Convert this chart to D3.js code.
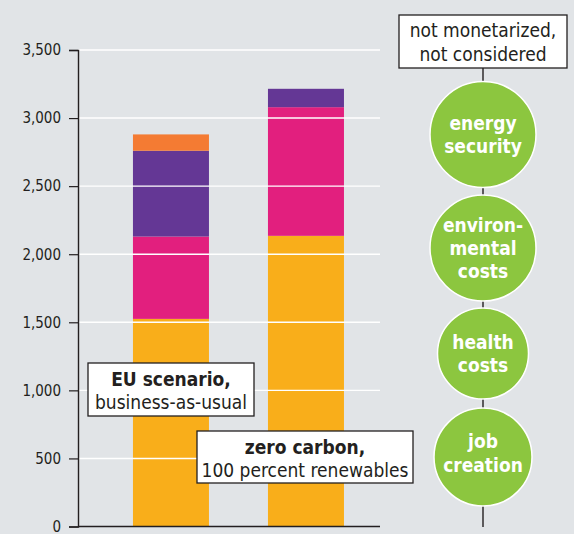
<!DOCTYPE html>
<html>
<head>
<meta charset="utf-8">
<script src="https://cdn.jsdelivr.net/npm/d3@7"></script>
<style>
  html, body { margin: 0; padding: 0; background: #e1e4e7; }
  text { font-family: "Liberation Sans Narrow", "DejaVu Sans Condensed", "Arial Narrow", sans-serif; }
</style>
</head>
<body>
<div id="chart"></div>
<script>
var width = 574
var height = 534

// data
var scenarios = ['EU scenario', 'zero carbon']
var layers = ['base', 'second', 'third', 'fourth']
var layer_colors = ['#f9ae1a', '#e21f7e', '#643795', '#f47b33']
var base_vals = [1525, 2135]
var second_vals = [605, 945]
var third_vals = [630, 135]
var fourth_vals = [120, 0]
var y_ticks = [0, 500, 1000, 1500, 2000, 2500, 3000, 3500]

// right hand column, not monetarized
var top_note = ['not monetarized,', 'not considered']
var bubble_labels = [['energy', 'security'], ['environ-', 'mental', 'costs'], ['health', 'costs'], ['job', 'creation']]

var table = scenarios.map(function(s, i) {
  return {scenario: s, base: base_vals[i], second: second_vals[i], third: third_vals[i], fourth: fourth_vals[i]}
})

var stacked = d3.stack().keys(layers)(table)

var svg = d3.select('#chart')
  .append('svg')
  .attr('width', width)
  .attr('height', height)

svg.append('rect')
  .attr('width', width)
  .attr('height', height)
  .attr('fill', '#e1e4e7')

var y = d3.scaleLinear()
  .domain([0, 3500])
  .range([526.5, 50])

var x = d3.scaleBand()
  .domain(scenarios)
  .range([78, 380])
  .paddingInner(0.437)
  .paddingOuter(0.337)
  .align(0.604)

var color = d3.scaleOrdinal()
  .domain(layers)
  .range(layer_colors)

// bars
svg.append('g')
  .selectAll('g')
  .data(stacked)
  .enter()
  .append('g')
  .attr('fill', function(d) { return color(d.key) })
  .selectAll('rect')
  .data(function(d) { return d })
  .enter()
  .append('rect')
  .attr('x', function(d) { return x(d.data.scenario) })
  .attr('y', function(d) { return y(d[1]) })
  .attr('width', x.bandwidth())
  .attr('height', function(d) { return y(d[0]) - y(d[1]) })

// white gridlines sit over the bars
svg.append('g')
  .selectAll('line')
  .data(y_ticks.filter(function(d) { return d > 0 }))
  .enter()
  .append('line')
  .attr('x1', 78)
  .attr('x2', 380)
  .attr('y1', function(d) { return y(d) })
  .attr('y2', function(d) { return y(d) })
  .attr('stroke', '#ffffff')
  .attr('stroke-width', 1.4)

// y axis
var yAxis = d3.axisLeft(y)
  .tickValues(y_ticks)
  .tickFormat(d3.format(','))
  .tickSize(9)
  .tickPadding(8)

var gy = svg.append('g')
  .attr('transform', 'translate(78,0)')
  .call(yAxis)

gy.select('.domain').attr('stroke', '#231f20').attr('stroke-width', 1.4)
gy.selectAll('.tick line').attr('stroke', '#231f20').attr('stroke-width', 1.2)
gy.selectAll('.tick text')
  .attr('fill', '#231f20')
  .style('font-size', '15px')

// baseline
svg.append('line')
  .attr('x1', 78)
  .attr('x2', 380)
  .attr('y1', y(0))
  .attr('y2', y(0))
  .attr('stroke', '#231f20')
  .attr('stroke-width', 1.4)

// scenario labels
function label_box(x0, y0, w, h, bold_line, plain_line) {
  var g = svg.append('g')
  g.append('rect')
    .attr('x', x0)
    .attr('y', y0)
    .attr('width', w)
    .attr('height', h)
    .attr('fill', '#ffffff')
    .attr('stroke', '#231f20')
    .attr('stroke-width', 1.3)
  g.append('text')
    .attr('x', x0 + w / 2)
    .attr('y', y0 + 23)
    .attr('text-anchor', 'middle')
    .attr('fill', '#231f20')
    .style('font-weight', 'bold')
    .style('font-size', '19px')
    .text(bold_line)
  g.append('text')
    .attr('x', x0 + w / 2)
    .attr('y', y0 + 46)
    .attr('text-anchor', 'middle')
    .attr('fill', '#231f20')
    .style('font-size', '19px')
    .text(plain_line)
}

label_box(88, 363, 166, 53, 'EU scenario,', 'business-as-usual')
label_box(197, 431, 216, 52, 'zero carbon,', '100 percent renewables')

// right column
var cx = 483

svg.append('line')
  .attr('x1', cx)
  .attr('x2', cx)
  .attr('y1', 68)
  .attr('y2', 527)
  .attr('stroke', '#231f20')
  .attr('stroke-width', 1.4)

svg.append('rect')
  .attr('x', 399)
  .attr('y', 15)
  .attr('width', 168)
  .attr('height', 53)
  .attr('fill', '#ffffff')
  .attr('stroke', '#231f20')
  .attr('stroke-width', 1.3)

svg.selectAll('.note')
  .data(top_note)
  .enter()
  .append('text')
  .attr('class', 'note')
  .attr('x', cx)
  .attr('y', function(d, i) { return 37 + i * 24 })
  .attr('text-anchor', 'middle')
  .attr('fill', '#231f20')
  .style('font-size', '19px')
  .text(function(d) { return d })

var bubble_cy = [134.5, 248, 353.5, 457]
var bubble_r = [53, 53, 45.5, 49]
var text_shift = [0, 0, 0, -4]

var bubbles = svg.selectAll('.bubble')
  .data(bubble_labels)
  .enter()
  .append('g')
  .attr('class', 'bubble')

bubbles.append('circle')
  .attr('cx', cx)
  .attr('cy', function(d, i) { return bubble_cy[i] })
  .attr('r', function(d, i) { return bubble_r[i] })
  .attr('fill', '#8cc63f')
  .attr('stroke', '#ffffff')
  .attr('stroke-width', 1.5)

bubbles.each(function(lines, i) {
  var first = bubble_cy[i] - (lines.length - 1) * 23.3 / 2 + 7 + text_shift[i]
  d3.select(this)
    .selectAll('text')
    .data(lines)
    .enter()
    .append('text')
    .attr('x', cx)
    .attr('y', function(d, j) { return first + j * 23.3 })
    .attr('text-anchor', 'middle')
    .attr('fill', '#ffffff')
    .style('font-weight', 'bold')
    .style('font-size', '19px')
    .text(function(d) { return d })
})
</script>
</body>
</html>
